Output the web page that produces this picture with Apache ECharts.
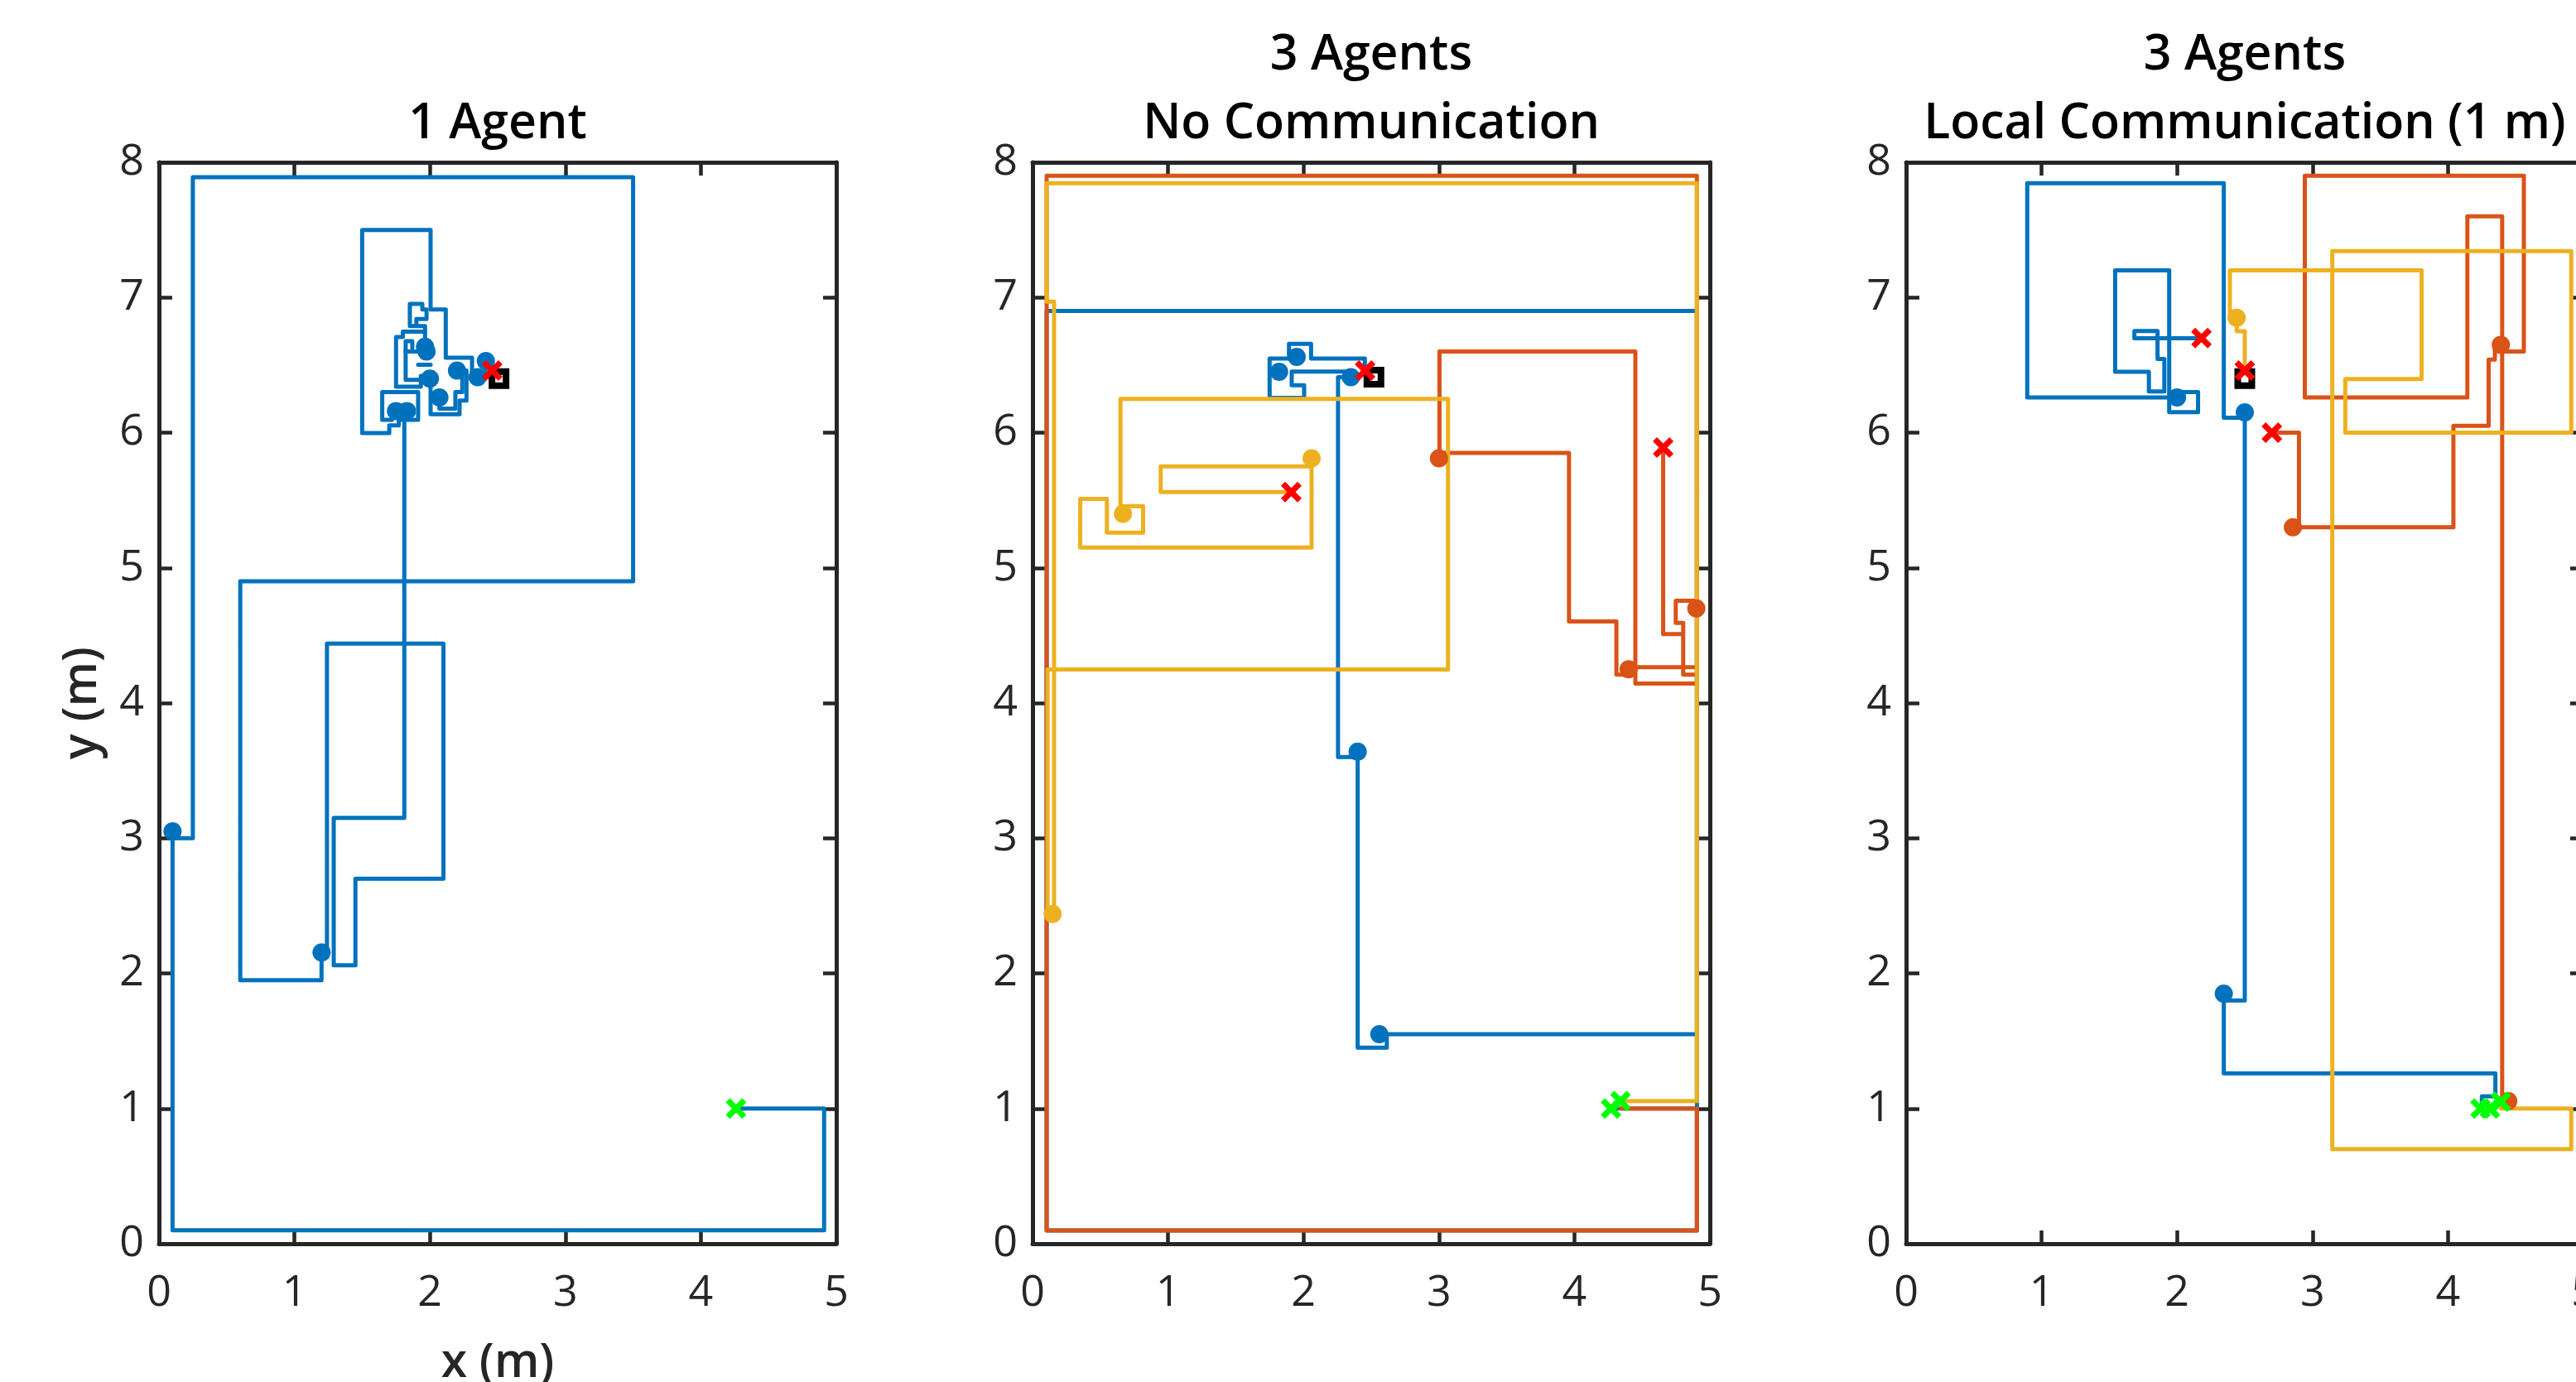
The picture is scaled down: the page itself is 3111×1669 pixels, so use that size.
<!DOCTYPE html>
<html>
<head>
<meta charset="utf-8">
<script src="https://cdn.jsdelivr.net/npm/echarts@6/dist/echarts.min.js"></script>
<style>
html,body{margin:0;padding:0;background:#fff;overflow:hidden;}
#c{width:3200px;height:1669px;}
</style>
</head>
<body>
<div id="c"></div>
<script>
// ---------- DATA ----------
var titles = ['1 Agent', '3 Agents\nNo Communication', '3 Agents\nLocal Communication (1 m)'];
var xTicks = [0, 1, 2, 3, 4, 5];
var yTicks = [0, 1, 2, 3, 4, 5, 6, 7, 8];
var xName = 'x (m)';
var yName = 'y (m)';

// Panel 1 : one agent (blue)
var p1Blue = [
  [[4.26,1.0],[4.91,1.0],[4.91,0.10],[0.10,0.10],[0.10,3.0],[0.25,3.0],[0.25,7.89],[3.5,7.89],[3.5,4.9],[0.6,4.9],[0.6,1.95],[1.2,1.95],[1.2,2.12],[1.24,2.12],[1.24,4.44],[2.1,4.44],[2.1,2.7],[1.45,2.7],[1.45,2.06],[1.29,2.06],[1.29,3.15],[1.811,3.15],[1.811,6.16],[1.72,6.16],[1.72,6.095],[1.648,6.095],[1.648,6.30],[1.913,6.30],[1.913,6.095],[1.77,6.095],[1.77,6.054],[1.70,6.054],[1.70,5.997],[1.5,5.997],[1.5,7.5],[2.005,7.5],[2.005,6.911],[2.117,6.911],[2.117,6.554],[2.311,6.554],[2.311,6.42],[2.41,6.42],[2.41,6.53],[2.46,6.53],[2.46,6.46]],
  [[2.005,6.42],[1.933,6.42],[1.933,6.34],[1.75,6.34],[1.75,6.707],[1.80,6.707],[1.80,6.748],[1.964,6.748],[1.964,6.64]],
  [[1.975,6.60],[1.821,6.60],[1.821,6.677],[1.87,6.677],[1.87,6.626]],
  [[1.821,6.60],[1.821,6.39],[1.933,6.39]],
  [[1.964,6.748],[1.964,6.789],[1.852,6.789],[1.852,6.952],[1.944,6.952],[1.944,6.911],[1.975,6.911],[1.975,6.84],[1.90,6.84],[1.90,6.80]],
  [[1.913,6.503],[2.005,6.503]],
  [[2.005,6.42],[2.005,6.136],[2.219,6.136],[2.219,6.238],[2.27,6.238],[2.27,6.46],[2.20,6.46]],
  [[2.07,6.26],[2.07,6.177],[2.188,6.177],[2.188,6.30],[2.239,6.30],[2.239,6.42]]
];
var p1BlueDots = [[0.10,3.05],[1.2,2.155],[1.75,6.16],[1.83,6.16],[1.964,6.636],[1.975,6.60],[2.0,6.40],[2.07,6.26],[2.20,6.46],[2.352,6.41],[2.413,6.53]];
var p1Ends = [[2.46,6.46]];
var p1Starts = [[4.26,1.0]];
var p1Target = [[2.51,6.40]];

// Panel 2 : three agents, no communication
var p2Blue = [
  [[4.30,1.0],[4.904,1.0],[4.904,6.90],[0.104,6.90],[0.104,0.098],[4.904,0.098],[4.904,1.55],[2.615,1.55],[2.615,1.45],[2.40,1.45],[2.40,3.60],[2.255,3.60],[2.255,6.41],[2.37,6.41],[2.37,6.452],[1.913,6.452],[1.913,6.35],[2.005,6.35],[2.005,6.258],[1.75,6.258],[1.75,6.548],[1.893,6.548],[1.893,6.657],[2.056,6.657],[2.056,6.548],[2.453,6.548],[2.453,6.46]]
];
var p2Orange = [
  [[4.34,1.0],[4.904,1.0],[4.904,0.098],[0.104,0.098],[0.104,7.90],[4.904,7.90],[4.904,4.144],[4.45,4.144],[4.45,6.60],[3.004,6.60],[3.004,5.85],[3.96,5.85],[3.96,4.604],[4.31,4.604],[4.31,4.21],[4.40,4.21],[4.40,4.265],[4.904,4.265],[4.904,4.757],[4.748,4.757],[4.748,4.593],[4.803,4.593],[4.803,4.21],[4.904,4.21],[4.803,4.21],[4.803,4.51],[4.655,4.51],[4.655,5.894]]
];
var p2Yellow = [
  [[4.34,1.055],[4.904,1.055],[4.904,7.846],[0.104,7.846],[0.104,6.97],[0.159,6.97],[0.159,2.444],[0.111,2.444],[0.111,4.248],[3.067,4.248],[3.067,6.249],[0.649,6.249],[0.649,5.457],[0.816,5.457],[0.816,5.26],[0.549,5.26],[0.549,5.51],[0.352,5.51],[0.352,5.15],[2.06,5.15],[2.06,5.75],[0.946,5.75],[0.946,5.56],[1.91,5.56]]
];
var p2BlueDots = [[2.56,1.55],[2.40,3.64],[2.35,6.41],[1.82,6.45],[1.95,6.56]];
var p2OrangeDots = [[3.0,5.81],[4.40,4.25],[4.90,4.70]];
var p2YellowDots = [[0.148,2.44],[0.667,5.40],[2.06,5.81]];
var p2Ends = [[2.455,6.46],[1.91,5.56],[4.655,5.89]];
var p2Starts = [[4.27,1.0],[4.34,1.055]];
var p2Target = [[2.52,6.41]];

// Panel 3 : three agents, local communication (1 m)
var p3Blue = [
  [[4.25,1.0],[4.25,1.09],[4.35,1.09],[4.35,1.26],[2.345,1.26],[2.345,1.80],[2.50,1.80],[2.50,6.11],[2.345,6.11],[2.345,7.846],[0.894,7.846],[0.894,6.26],[2.0,6.26],[2.0,6.30],[2.155,6.30],[2.155,6.151],[1.942,6.151],[1.942,7.20],[1.543,7.20],[1.543,6.45],[1.792,6.45],[1.792,6.304],[1.906,6.304],[1.906,6.545],[1.856,6.545],[1.856,6.752],[1.685,6.752],[1.685,6.698],[2.18,6.698]]
];
var p3Orange = [
  [[4.445,1.055],[4.40,1.055],[4.40,7.60],[4.143,7.60],[4.143,6.26],[2.943,6.26],[2.943,7.90],[4.56,7.90],[4.56,6.60],[4.40,6.60],[4.40,6.65],[4.346,6.65],[4.346,6.54],[4.30,6.54],[4.30,6.05],[4.04,6.05],[4.04,5.30],[2.90,5.30],[2.90,6.0],[2.70,6.0]]
];
var p3Yellow = [
  [[4.39,1.0],[4.91,1.0],[4.91,0.70],[3.146,0.70],[3.146,7.343],[4.91,7.343],[4.91,6.0],[3.242,6.0],[3.242,6.397],[3.805,6.397],[3.805,7.20],[2.39,7.20],[2.39,6.85],[2.44,6.85],[2.44,6.75],[2.50,6.75],[2.50,6.46]]
];
var p3BlueDots = [[2.345,1.85],[2.50,6.15],[2.0,6.26]];
var p3OrangeDots = [[4.445,1.055],[4.39,6.65],[2.855,5.30]];
var p3YellowDots = [[2.44,6.85]];
var p3Ends = [[2.18,6.70],[2.50,6.46],[2.70,6.0]];
var p3Starts = [[4.24,1.0],[4.31,1.0],[4.39,1.05]];
var p3Target = [[2.50,6.40]];

// ---------- STYLE / LAYOUT ----------
var BLUE = '#0072BD', ORANGE = '#D95319', YELLOW = '#EDB120';
var AXC = '#262626';
var gridLefts = [192, 1247, 2302];
var GRID_TOP = 196, GRID_W = 818, GRID_H = 1306;
var FONT = '"Open Sans", "Noto Sans", sans-serif';
var XSYM = 'path://M0,2L2,0L5,3L8,0L10,2L7,5L10,8L8,10L5,7L2,10L0,8L3,5Z';
var LW = 5;

var grids = [], xAxes = [], yAxes = [], series = [];

function axisCommon(showLabel, pos, isX) {
  return {
    type: 'value',
    position: pos,
    min: 0,
    max: isX ? xTicks[xTicks.length - 1] : yTicks[yTicks.length - 1],
    interval: 1,
    axisLine: { show: true, onZero: false, lineStyle: { color: AXC, width: 5 } },
    axisTick: { show: true, inside: true, length: 16, lineStyle: { color: AXC, width: 4.5 } },
    splitLine: { show: false },
    axisLabel: {
      show: showLabel,
      fontSize: 52,
      color: AXC,
      fontFamily: FONT,
      margin: isX ? 34 : 18,
      showMinLabel: true,
      showMaxLabel: true
    }
  };
}

for (var g = 0; g < 3; g++) {
  grids.push({ left: gridLefts[g], top: GRID_TOP, width: GRID_W, height: GRID_H, containLabel: false });
  var xb = axisCommon(true, 'bottom', true); xb.gridIndex = g;
  var xt = axisCommon(false, 'top', true); xt.gridIndex = g;
  var yl = axisCommon(true, 'left', false); yl.gridIndex = g;
  var yr = axisCommon(false, 'right', false); yr.gridIndex = g;
  xAxes.push(xb, xt);
  yAxes.push(yl, yr);
}

function addLines(g, paths, color) {
  paths.forEach(function (pts) {
    series.push({
      type: 'line', xAxisIndex: g * 2, yAxisIndex: g * 2, data: pts,
      symbol: 'none', showSymbol: false, silent: true, animation: false, z: 2,
      lineStyle: { color: color, width: LW, cap: 'round', join: 'round' }
    });
  });
}
function addDots(g, pts, color) {
  series.push({
    type: 'scatter', xAxisIndex: g * 2, yAxisIndex: g * 2, data: pts,
    symbol: 'circle', symbolSize: 22, silent: true, animation: false, z: 3,
    itemStyle: { color: color, opacity: 1 }
  });
}
function addTarget(g, pts) {
  series.push({
    type: 'scatter', xAxisIndex: g * 2, yAxisIndex: g * 2, data: pts,
    symbol: 'rect', symbolSize: 17, silent: true, animation: false, z: 4,
    itemStyle: { color: '#ffffff', borderColor: '#000000', borderWidth: 8, opacity: 1 }
  });
}
function addCross(g, pts, color) {
  series.push({
    type: 'scatter', xAxisIndex: g * 2, yAxisIndex: g * 2, data: pts,
    symbol: XSYM, symbolSize: 25, silent: true, animation: false, z: 5,
    itemStyle: { color: color, opacity: 1 }
  });
}

// panel 1
addLines(0, p1Blue, BLUE);
addDots(0, p1BlueDots, BLUE);
addTarget(0, p1Target);
addCross(0, p1Ends, '#FF0000');
addCross(0, p1Starts, '#00FF00');
// panel 2
addLines(1, p2Blue, BLUE);
addLines(1, p2Orange, ORANGE);
addLines(1, p2Yellow, YELLOW);
addDots(1, p2BlueDots, BLUE);
addDots(1, p2OrangeDots, ORANGE);
addDots(1, p2YellowDots, YELLOW);
addTarget(1, p2Target);
addCross(1, p2Ends, '#FF0000');
addCross(1, p2Starts, '#00FF00');
// panel 3
addLines(2, p3Blue, BLUE);
addLines(2, p3Orange, ORANGE);
addLines(2, p3Yellow, YELLOW);
addDots(2, p3BlueDots, BLUE);
addDots(2, p3OrangeDots, ORANGE);
addDots(2, p3YellowDots, YELLOW);
addTarget(2, p3Target);
addCross(2, p3Ends, '#FF0000');
addCross(2, p3Starts, '#00FF00');

// titles and axis names as text
var graphics = [];
var titleFont = '600 59px ' + FONT;
titles.forEach(function (t, i) {
  var cx = gridLefts[i] + GRID_W / 2;
  var lines = t.split('\n');
  var y0 = 150 - (lines.length - 1) * 83;
  lines.forEach(function (ln, k) {
    graphics.push({
      type: 'text', silent: true,
      style: { text: ln, x: cx, y: y0 + k * 83, font: titleFont, fill: '#000', align: 'center', verticalAlign: 'middle' }
    });
  });
});
graphics.push({
  type: 'text', silent: true,
  style: { text: xName, x: gridLefts[0] + GRID_W / 2, y: 1647, font: '600 57px ' + FONT, fill: AXC, align: 'center', verticalAlign: 'middle' }
});
graphics.push({
  type: 'text', silent: true, x: 100, y: GRID_TOP + GRID_H / 2, rotation: Math.PI / 2,
  style: { text: yName, x: 0, y: 0, font: '600 57px ' + FONT, fill: AXC, align: 'center', verticalAlign: 'middle' }
});

var chart = echarts.init(document.getElementById('c'), null, { renderer: 'canvas', width: 3200, height: 1669 });
chart.setOption({
  backgroundColor: '#ffffff',
  animation: false,
  grid: grids,
  xAxis: xAxes,
  yAxis: yAxes,
  series: series,
  graphic: graphics
});
</script>
</body>
</html>
